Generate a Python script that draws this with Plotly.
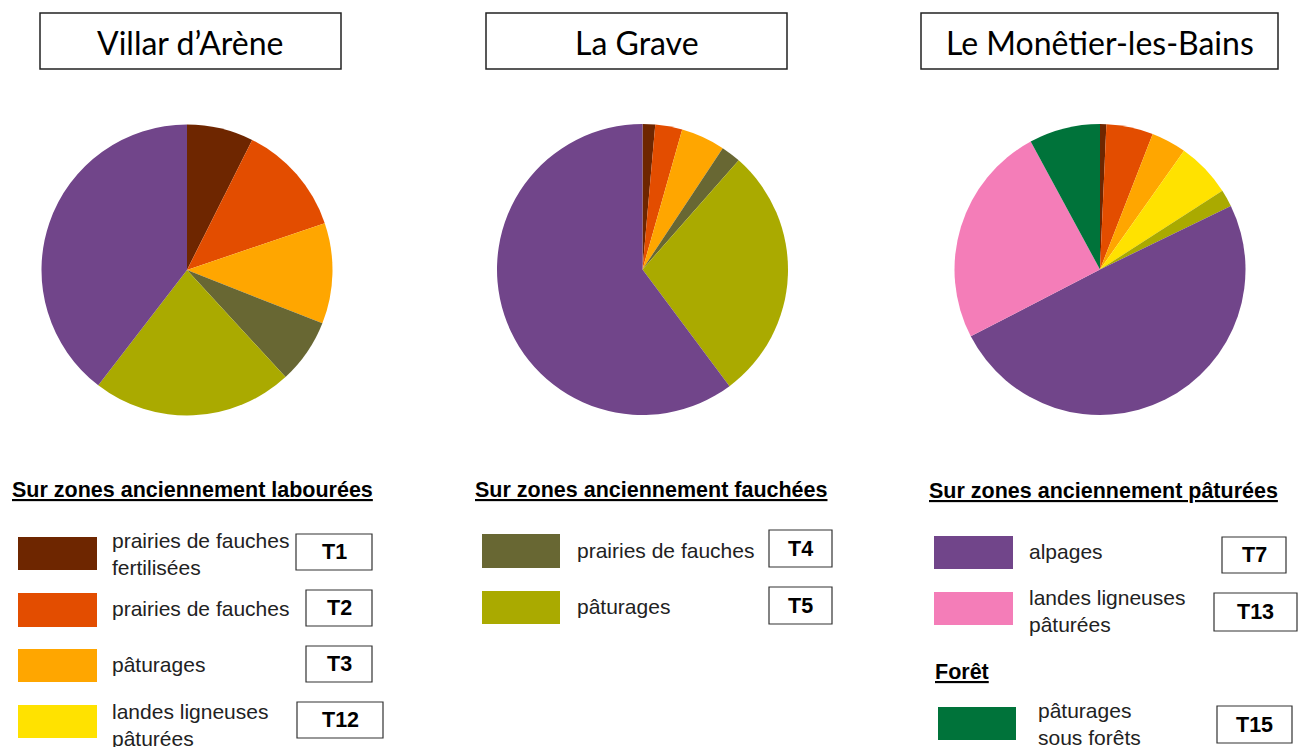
import plotly.graph_objects as go

W, H = 1299, 747

# ---------------- data ----------------
codes = ["T1", "T2", "T3", "T12", "T4", "T5", "T7", "T13", "T15"]
labels = ["prairies de fauches fertilisées", "prairies de fauches", "pâturages",
          "landes ligneuses pâturées", "prairies de fauches", "pâturages",
          "alpages", "landes ligneuses pâturées", "pâturages sous forêts"]
colors = ["#6E2600", "#E34D00", "#FFA600", "#FFE200", "#686733", "#AAAA00",
          "#71458A", "#F47DB8", "#00733A"]

communes = ["Villar d’Arène", "La Grave", "Le Monêtier-les-Bains"]
villar = [7.4, 12.4, 11.2, 0, 7.2, 22.3, 39.6, 0, 0]
la_grave = [1.4, 3.0, 4.9, 0, 2.2, 28.3, 60.2, 0, 0]
monetier = [0.7, 5.2, 3.9, 6.1, 0, 1.9, 49.6, 24.7, 7.9]
series = [villar, la_grave, monetier]

section_titles = ["Sur zones anciennement labourées",
                  "Sur zones anciennement fauchées",
                  "Sur zones anciennement pâturées",
                  "Forêt"]
legend_texts = ["prairies de fauches<br>fertilisées", "prairies de fauches", "pâturages",
                "landes ligneuses<br>pâturées", "prairies de fauches", "pâturages",
                "alpages", "landes ligneuses<br>pâturées", "pâturages<br>sous forêts"]

# ---------------- layout helpers ----------------
def fx(x):
    return x / W

def fy(y):
    return 1 - y / H

pie_centers = [(187, 270), (642.5, 269.5), (1100, 269.5)]
R = 145.5
title_boxes = [(40, 341), (486, 787), (921, 1278)]

fig = go.Figure()
for (cx, cy), vals, name in zip(pie_centers, series, communes):
    fig.add_trace(go.Pie(
        labels=codes, values=vals, name=name,
        marker=dict(colors=colors, line=dict(width=0)),
        sort=False, direction="clockwise", rotation=0,
        textinfo="none", hovertemplate="%{label}: %{percent}<extra>" + name + "</extra>",
        domain=dict(x=[fx(cx - R), fx(cx + R)], y=[fy(cy + R), fy(cy - R)]),
        showlegend=False,
    ))

shapes = []
annotations = []

# title boxes
for (x0, x1), name in zip(title_boxes, communes):
    shapes.append(dict(type="rect", xref="paper", yref="paper",
                       x0=fx(x0), x1=fx(x1), y0=fy(69), y1=fy(13),
                       line=dict(color="#222222", width=1.5), fillcolor="white"))
    annotations.append(dict(x=fx((x0 + x1) / 2), y=fy(42), xref="paper", yref="paper",
                            text=name, showarrow=False, xanchor="center", yanchor="middle",
                            font=dict(family="Lato", size=32, color="black")))

# section headings: (x, y center)
heading_pos = [(10, 490), (473, 490), (927, 491), (933, 672)]
for t, (x, y) in zip(section_titles, heading_pos):
    annotations.append(dict(x=fx(x), y=fy(y), xref="paper", yref="paper",
                            text="<b><u>" + t + "</u></b>", showarrow=False,
                            xanchor="left", yanchor="middle",
                            font=dict(family="Liberation Sans", size=21.5, color="black")))

# legend rows: index into codes, swatch (x0,x1,y0,y1), text x, text y center, code box (x0,x1,y0,y1)
legend_rows = [
    (0, (18, 97, 537, 570), 110, 554, (296, 372, 534, 570)),
    (1, (18, 97, 593, 627), 110, 608, (306, 372, 590, 626)),
    (2, (18, 97, 649, 682), 110, 664, (306, 372, 646, 682)),
    (3, (18, 97, 705, 738), 110, 725, (297, 383, 702, 738)),
    (4, (482, 560, 534, 568), 575, 550, (769, 832, 530, 567)),
    (5, (482, 560, 591, 624), 575, 606, (769, 832, 587, 624)),
    (6, (934, 1013, 536, 569), 1027, 551, (1222, 1286, 537, 573)),
    (7, (934, 1013, 592, 625), 1027, 611, (1214, 1297, 593, 631)),
    (8, (938, 1016, 707, 740), 1036, 724, (1217, 1292, 706, 743)),
]
for i, (sx0, sx1, sy0, sy1), tx, ty, (bx0, bx1, by0, by1) in legend_rows:
    shapes.append(dict(type="rect", xref="paper", yref="paper",
                       x0=fx(sx0), x1=fx(sx1), y0=fy(sy1), y1=fy(sy0),
                       line=dict(width=0), fillcolor=colors[i]))
    annotations.append(dict(x=fx(tx), y=fy(ty), xref="paper", yref="paper",
                            text=legend_texts[i], showarrow=False, align="left",
                            xanchor="left", yanchor="middle",
                            font=dict(family="Liberation Sans", size=21, color="#222222")))
    shapes.append(dict(type="rect", xref="paper", yref="paper",
                       x0=fx(bx0), x1=fx(bx1), y0=fy(by1), y1=fy(by0),
                       line=dict(color="#333333", width=1.2), fillcolor="white"))
    annotations.append(dict(x=fx((bx0 + bx1) / 2), y=fy((by0 + by1) / 2), xref="paper", yref="paper",
                            text="<b>" + codes[i] + "</b>", showarrow=False,
                            xanchor="center", yanchor="middle",
                            font=dict(family="Liberation Sans", size=21.5, color="black")))

fig.update_layout(
    width=W, height=H,
    margin=dict(l=0, r=0, t=0, b=0),
    paper_bgcolor="white", plot_bgcolor="white",
    shapes=shapes, annotations=annotations,
)

fig.write_html("out.html",
               config={"displayModeBar": False},
               post_script="document.body.style.margin='0';document.body.style.padding='0';"
                           "document.body.style.overflow='hidden';")
